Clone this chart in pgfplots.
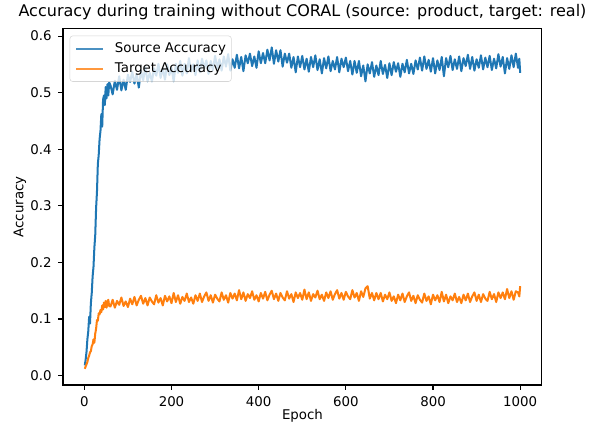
\documentclass[border=0pt]{standalone}
\usepackage{fontspec}
\setmainfont{DejaVu Sans}
\usepackage{pgfplots}
\pgfplotsset{compat=1.18}
\usepackage{pgfplotstable}
\definecolor{mplblue}{HTML}{1F77B4}
\definecolor{mplorange}{HTML}{FF7F0E}

\pgfplotstableread{
e s t
1 0.018 0.012
3 0.028 0.016
5 0.042 0.020
7 0.064 0.024
9 0.078 0.031
11 0.104 0.035
13 0.092 0.041
15 0.128 0.043
17 0.146 0.052
19 0.175 0.055
21 0.192 0.064
23 0.226 0.058
25 0.248 0.074
27 0.296 0.083
29 0.325 0.098
31 0.374 0.097
33 0.390 0.110
35 0.418 0.108
37 0.432 0.116
39 0.462 0.112
41 0.440 0.124
43 0.488 0.117
45 0.495 0.129
47 0.478 0.121
49 0.510 0.132
51 0.490 0.120
53 0.515 0.130
55 0.495 0.134
57 0.518 0.123
60 0.513 0.122
65 0.497 0.134
70 0.521 0.120
75 0.505 0.132
80 0.529 0.125
85 0.504 0.138
90 0.523 0.123
95 0.505 0.131
100 0.532 0.121
105 0.519 0.136
110 0.537 0.126
115 0.516 0.139
120 0.533 0.124
125 0.509 0.134
130 0.539 0.141
135 0.522 0.127
140 0.545 0.137
145 0.520 0.124
150 0.535 0.138
155 0.520 0.131
160 0.543 0.126
165 0.530 0.142
170 0.551 0.129
175 0.526 0.137
180 0.543 0.124
185 0.523 0.141
190 0.550 0.131
195 0.531 0.140
200 0.544 0.128
205 0.520 0.146
210 0.551 0.130
215 0.535 0.142
220 0.556 0.127
225 0.530 0.139
230 0.551 0.132
235 0.534 0.145
240 0.561 0.130
245 0.537 0.138
250 0.550 0.127
255 0.531 0.142
260 0.557 0.132
265 0.536 0.145
270 0.560 0.130
275 0.543 0.140
280 0.557 0.147
285 0.533 0.132
290 0.556 0.142
295 0.540 0.129
300 0.565 0.143
305 0.543 0.136
310 0.559 0.131
315 0.539 0.147
320 0.564 0.134
325 0.546 0.142
330 0.568 0.129
335 0.539 0.146
340 0.559 0.136
345 0.544 0.145
350 0.567 0.133
355 0.543 0.151
360 0.563 0.135
365 0.538 0.147
370 0.566 0.132
375 0.552 0.144
380 0.569 0.137
385 0.547 0.149
390 0.564 0.134
395 0.544 0.142
400 0.573 0.131
405 0.552 0.146
410 0.570 0.136
415 0.552 0.148
420 0.576 0.133
425 0.557 0.143
430 0.580 0.150
435 0.551 0.135
440 0.575 0.145
445 0.555 0.132
450 0.575 0.146
455 0.546 0.138
460 0.569 0.133
465 0.553 0.149
470 0.569 0.136
475 0.544 0.144
480 0.563 0.130
485 0.536 0.147
490 0.564 0.137
495 0.545 0.146
500 0.565 0.134
505 0.541 0.152
510 0.560 0.135
515 0.537 0.147
520 0.563 0.132
525 0.545 0.144
530 0.566 0.138
535 0.540 0.150
540 0.559 0.135
545 0.534 0.143
550 0.561 0.132
555 0.543 0.147
560 0.564 0.137
565 0.538 0.149
570 0.556 0.134
575 0.541 0.144
580 0.563 0.151
585 0.536 0.136
590 0.560 0.146
595 0.545 0.134
600 0.562 0.148
605 0.538 0.140
610 0.556 0.135
615 0.532 0.151
620 0.556 0.138
625 0.535 0.146
630 0.556 0.132
635 0.529 0.149
640 0.548 0.139
645 0.520 0.154
650 0.550 0.158
655 0.534 0.136
660 0.554 0.146
665 0.528 0.133
670 0.548 0.146
675 0.531 0.135
680 0.556 0.146
685 0.533 0.131
690 0.549 0.143
695 0.526 0.135
700 0.552 0.147
705 0.531 0.132
710 0.554 0.140
715 0.537 0.128
720 0.552 0.143
725 0.528 0.133
730 0.551 0.145
735 0.536 0.130
740 0.558 0.140
745 0.534 0.147
750 0.551 0.132
755 0.533 0.141
760 0.557 0.128
765 0.541 0.142
770 0.562 0.134
775 0.539 0.129
780 0.564 0.145
785 0.542 0.132
790 0.558 0.140
795 0.537 0.126
800 0.561 0.143
805 0.534 0.133
810 0.557 0.142
815 0.540 0.130
820 0.563 0.148
825 0.529 0.131
830 0.561 0.143
835 0.545 0.128
840 0.565 0.140
845 0.540 0.133
850 0.559 0.145
855 0.542 0.130
860 0.564 0.139
865 0.538 0.128
870 0.561 0.143
875 0.547 0.133
880 0.567 0.145
885 0.542 0.130
890 0.563 0.140
895 0.539 0.147
900 0.559 0.132
905 0.544 0.143
910 0.566 0.130
915 0.541 0.144
920 0.562 0.136
925 0.545 0.132
930 0.565 0.148
935 0.540 0.135
940 0.560 0.144
945 0.543 0.130
950 0.568 0.147
955 0.546 0.137
960 0.563 0.147
965 0.534 0.135
970 0.561 0.153
975 0.542 0.137
980 0.566 0.149
985 0.545 0.134
990 0.569 0.149
995 0.544 0.147
998 0.560 0.140
1000 0.535 0.158
}\datatable

\begin{document}
\begin{tikzpicture}
\begin{axis}[
  scale only axis,
  width=357.3bp, height=265.6bp,
  xmin=-48.95, xmax=1049.95,
  ymin=-0.0166, ymax=0.6126,
  xtick={0,200,400,600,800,1000},
  ytick={0,0.1,0.2,0.3,0.4,0.5,0.6},
  /pgf/number format/1000 sep={},
  y tick label style={/pgf/number format/fixed, /pgf/number format/fixed zerofill, /pgf/number format/precision=1},
  /pgf/number format/assume math mode=true,
  tick align=outside, tick pos=left,
  major tick length=3.5bp,
  every tick/.style={black, line width=0.8bp},
  axis line style={line width=0.8bp, black},
  ticklabel style={font=\fontsize{10}{12}\selectfont},
  xticklabel style={anchor=base, yshift=-12.2bp},
  yticklabel style={anchor=east, xshift=-1.5bp},
  xlabel={Epoch},
  ylabel={Accuracy},
  label style={font=\fontsize{10}{12}\selectfont},
  every axis x label/.style={at={(axis description cs:0.5,-0.0983)}, anchor=base},
  every axis y label/.style={at={(axis description cs:-0.0898,0.5)}, rotate=90, anchor=center},
  title={Accuracy during training without CORAL (source: product, target: real)},
  title style={at={(axis description cs:0.5,1)}, anchor=base, yshift=3.5bp, font=\fontsize{12}{14}\selectfont},
  legend cell align=left,
  legend image code/.code={\draw[#1, line width=1.5bp] (0bp,0bp) -- (20bp,0bp);},
  legend style={at={(axis description cs:0,1)}, anchor=north west, xshift=5bp, yshift=-5bp,
    draw=black!20, fill=white, fill opacity=0.8, draw opacity=0.8, text opacity=1,
    rounded corners=2bp, font=\fontsize{10}{12}\selectfont,
    inner xsep=4bp, inner ysep=4.5bp, row sep=5bp,
    nodes={inner xsep=0bp, inner ysep=0bp, text height=7.6bp, text depth=2.4bp},
    /tikz/every odd column/.append style={column sep=8bp}},
  clip=true,
]
\coordinate (bl) at (rel axis cs:0,0);
\coordinate (tr) at (rel axis cs:1,1);
\addplot[mplblue, line width=1.5bp, line join=round] table[x=e, y=s] {\datatable};
\addlegendentry{Source Accuracy}
\addplot[mplorange, line width=1.5bp, line join=round] table[x=e, y=t] {\datatable};
\addlegendentry{Target Accuracy}
\end{axis}
\pgfresetboundingbox
\path[use as bounding box] ([xshift=-47.0bp, yshift=-32.8bp]bl) rectangle ([xshift=44.8bp, yshift=21.6bp]tr);
\end{tikzpicture}
\end{document}
